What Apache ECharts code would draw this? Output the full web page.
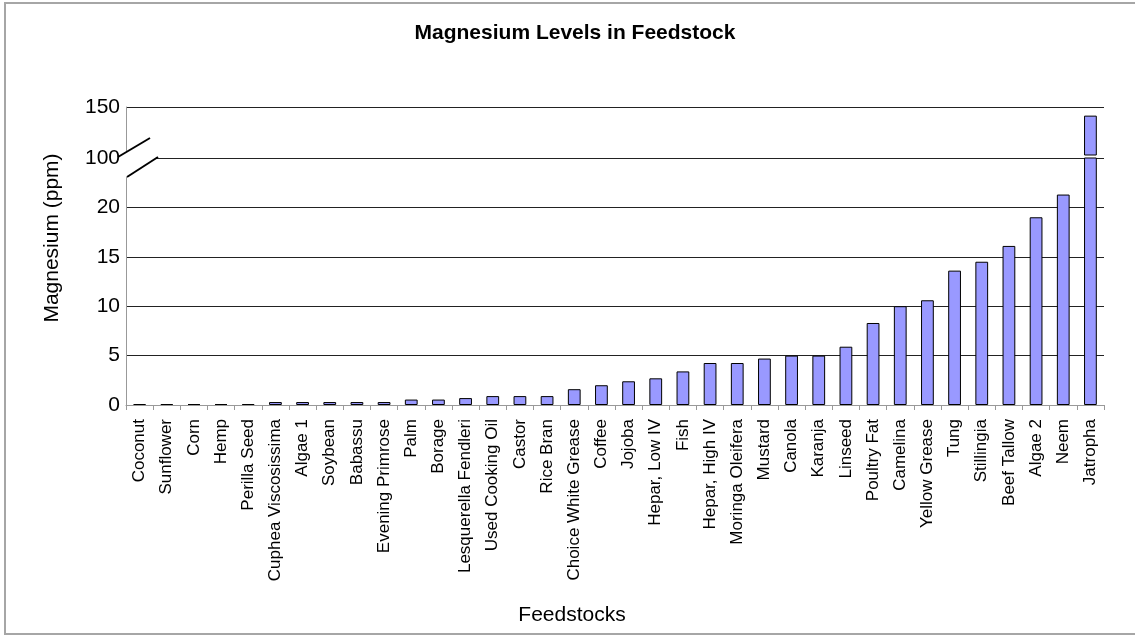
<!DOCTYPE html>
<html>
<head>
<meta charset="utf-8">
<script src="https://cdn.jsdelivr.net/npm/echarts@6/dist/echarts.min.js"></script>
<style>
html,body{margin:0;padding:0;background:#fff;}
#chart{width:1135px;height:636px;}
</style>
</head>
<body>
<div id="chart"></div>
<script>
const categories = ["Coconut","Sunflower","Corn","Hemp","Perilla Seed","Cuphea Viscosissima","Algae 1","Soybean","Babassu","Evening Primrose","Palm","Borage","Lesquerella Fendleri","Used Cooking Oil","Castor","Rice Bran","Choice White Grease","Coffee","Jojoba","Hepar, Low IV","Fish","Hepar, High IV","Moringa Oleifera","Mustard","Canola","Karanja","Linseed","Poultry Fat","Camelina","Yellow Grease","Tung","Stillingia","Beef Tallow","Algae 2","Neem","Jatropha"];
const magnesium = [0.1,0.1,0.1,0.1,0.1,0.3,0.3,0.3,0.3,0.3,0.55,0.55,0.7,0.9,0.9,0.9,1.6,2.0,2.4,2.7,3.4,4.25,4.25,4.7,5.0,5.0,5.9,8.3,10.0,10.6,13.6,14.5,16.1,19.0,21.3,141];
const lowerTickValues = [0,5,10,15,20,25];
const lowerTickLabels = ["0","5","10","15","20","100"];
const upperTickLabels = ["100","150"];

const FONT = "'Liberation Sans', Arial, sans-serif";
const GL = 126, GW = 978;
const chart = echarts.init(document.getElementById('chart'), null, {renderer:'canvas'});

const option = {
  animation:false,
  backgroundColor:'#fff',
  grid:[
    {left:GL, width:GW, top:158, height:247, containLabel:false},
    {left:GL, width:GW, top:107, height:48, containLabel:false}
  ],
  xAxis:[
    {type:'category', gridIndex:0, data:categories, boundaryGap:true,
     axisLine:{show:true, lineStyle:{color:'#999', width:1}},
     axisTick:{show:true, length:5, interval:0, lineStyle:{color:'#999'}},
     axisLabel:{interval:0, rotate:90, margin:14, fontSize:17, color:'#000', fontFamily:FONT},
     splitLine:{show:false}},
    {type:'category', gridIndex:1, data:categories, boundaryGap:true,
     axisLine:{show:false}, axisTick:{show:false}, axisLabel:{show:false}, splitLine:{show:false}}
  ],
  yAxis:[
    {type:'value', gridIndex:0, min:0, max:25, interval:5,
     axisLine:{show:true, lineStyle:{color:'#999', width:1}},
     axisTick:{show:false},
     axisLabel:{fontSize:21, color:'#000', fontFamily:FONT, margin:6,
       formatter:function(v){const i=lowerTickValues.indexOf(v);return i>=0?lowerTickLabels[i]:'';}},
     splitLine:{show:true, showMinLine:false, lineStyle:{color:'#222', width:1}}},
    {type:'value', gridIndex:1, min:100, max:150, interval:50,
     axisLine:{show:true, lineStyle:{color:'#999', width:1}},
     axisTick:{show:false},
     axisLabel:{fontSize:21, color:'#000', fontFamily:FONT, margin:6, showMinLabel:false,
       formatter:function(v){return v===150?upperTickLabels[1]:'';}},
     splitLine:{show:true, showMinLine:false, lineStyle:{color:'#222', width:1}}}
  ],
  series:[
    {type:'bar', xAxisIndex:0, yAxisIndex:0, data:magnesium, barWidth:'47%', clip:true,
     itemStyle:{color:'#9999FF', borderColor:'#000', borderWidth:1}},
    {type:'bar', xAxisIndex:1, yAxisIndex:1, data:magnesium, barWidth:'47%', clip:true,
     itemStyle:{color:'#9999FF', borderColor:'#000', borderWidth:1}}
  ],
  graphic:[
    {type:'rect', shape:{x:5, y:3, width:1140, height:631}, style:{fill:null, stroke:'#a6a6a6', lineWidth:2}, z:0, silent:true},
    {type:'text', x:575, y:33, style:{text:'Magnesium Levels in Feedstock', font:'bold 21px '+FONT, fill:'#000', textAlign:'center', textVerticalAlign:'middle'}, z:10},
    {type:'text', x:52, y:238, rotation:Math.PI/2, style:{text:'Magnesium (ppm)', font:'21px '+FONT, fill:'#000', textAlign:'center', textVerticalAlign:'middle'}, z:10},
    {type:'text', x:572, y:615, style:{text:'Feedstocks', font:'21px '+FONT, fill:'#000', textAlign:'center', textVerticalAlign:'middle'}, z:10},
    {type:'polygon', shape:{points:[[124,153.4],[150,138],[158,157],[127,177],[124,177]]}, style:{fill:'#fff', stroke:null}, z:50, silent:true},
    {type:'line', shape:{x1:118, y1:157, x2:150, y2:138}, style:{stroke:'#000', lineWidth:2}, z:51, silent:true},
    {type:'line', shape:{x1:127, y1:177, x2:158, y2:157}, style:{stroke:'#000', lineWidth:2}, z:51, silent:true}
  ]
};
chart.setOption(option);
</script>
</body>
</html>
